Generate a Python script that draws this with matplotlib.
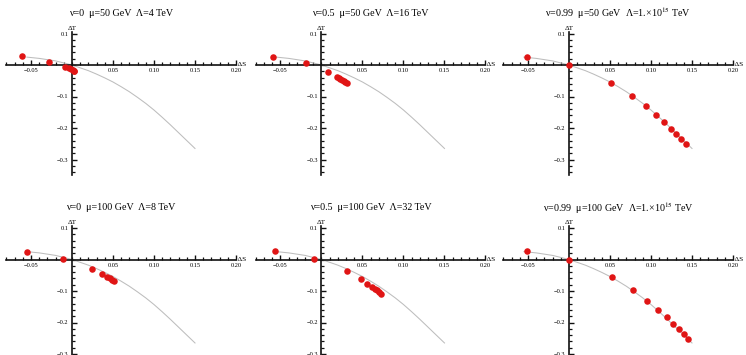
import matplotlib
matplotlib.use("Agg")
import matplotlib.pyplot as plt
import numpy as np
from matplotlib.ticker import MultipleLocator, FixedLocator

plt.rcParams['font.family'] = ['Liberation Serif', 'DejaVu Serif']
plt.rcParams['mathtext.fontset'] = 'stix'

# ---- data ----
titles = [
    "ν=0  μ=50 GeV  Λ=4 TeV",
    "ν=0.5  μ=50 GeV  Λ=16 TeV",
    "ν=0.99  μ=50 GeV  Λ=1.×10$^{15}$ TeV",
    "ν=0  μ=100 GeV  Λ=8 TeV",
    "ν=0.5  μ=100 GeV  Λ=32 TeV",
    "ν=0.99  μ=100 GeV  Λ=1.×10$^{15}$ TeV",
]

curve_S = [-0.055, -0.04, -0.02, 0.0, 0.02, 0.03, 0.04, 0.05, 0.06, 0.07, 0.08,
           0.09, 0.10, 0.11, 0.12, 0.13, 0.14, 0.15]
curve_T = [0.025, 0.021, 0.013, 0.0, -0.018, -0.029, -0.041, -0.054, -0.069, -0.085, -0.103,
           -0.122, -0.143, -0.166, -0.190, -0.215, -0.240, -0.265]

p1_S = [-0.061, -0.028, -0.008, -0.004, -0.001, 0.001, 0.002, 0.003]
p1_T = [0.029, 0.011, -0.006, -0.010, -0.013, -0.016, -0.018, -0.019]

p2_S = [-0.059, -0.0195, 0.008, 0.019, 0.021, 0.023, 0.025, 0.027, 0.029, 0.0305]
p2_T = [0.026, 0.005, -0.022, -0.039, -0.042, -0.045, -0.048, -0.051, -0.054, -0.056]

p3_S = [-0.0516, 0.0, 0.0512, 0.0772, 0.0939, 0.106, 0.116, 0.124, 0.131, 0.137, 0.1427]
p3_T = [0.026, 0.0, -0.056, -0.098, -0.131, -0.159, -0.182, -0.202, -0.220, -0.235, -0.250]

p4_S = [-0.055, -0.011, 0.024, 0.037, 0.0427, 0.046, 0.049, 0.051]
p4_T = [0.025, 0.002, -0.031, -0.047, -0.055, -0.060, -0.065, -0.069]

p5_S = [-0.057, -0.009, 0.031, 0.048, 0.056, 0.0615, 0.065, 0.068, 0.070, 0.072]
p5_T = [0.026, 0.002, -0.038, -0.061, -0.077, -0.087, -0.093, -0.098, -0.104, -0.108]

p6_S = [-0.0516, 0.0, 0.0524, 0.0784, 0.095, 0.109, 0.119, 0.127, 0.134, 0.140, 0.1455]
p6_T = [0.026, 0.0, -0.056, -0.098, -0.132, -0.161, -0.183, -0.204, -0.222, -0.237, -0.252]

points = [(p1_S, p1_T), (p2_S, p2_T), (p3_S, p3_T),
          (p4_S, p4_T), (p5_S, p5_T), (p6_S, p6_T)]

x_ticks = [-0.05, 0.05, 0.10, 0.15, 0.20]
x_labels = ["−0.05", "0.05", "0.10", "0.15", "0.20"]
y_ticks = [0.1, -0.1, -0.2, -0.3]
y_labels = ["0.1", "−0.1", "−0.2", "−0.3"]

# ---- layout ----
W, H = 746, 355
fig = plt.figure(figsize=(W / 100, H / 100), dpi=100)

XMIN, XMAX = -0.08, 0.2
YMIN, YMAX = -0.35, 0.105
PX_X, PX_Y = 820.0, 315.0
col_y_axis = [72, 321.5, 569]
row_x_axis = [65, 259.5]
title_y = [13, 208]

for i in range(6):
    r, c = divmod(i, 3)
    left = col_y_axis[c] + XMIN * PX_X
    width = (XMAX - XMIN) * PX_X
    top = row_x_axis[r] - YMAX * PX_Y
    height = (YMAX - YMIN) * PX_Y
    ax = fig.add_axes([left / W, 1 - (top + height) / H, width / W, height / H])
    ax.set_xlim(XMIN, XMAX)
    ax.set_ylim(YMIN, YMAX)
    ax.patch.set_alpha(0)
    for s in ['top', 'right']:
        ax.spines[s].set_visible(False)
    ax.spines['left'].set_position(('data', 0))
    ax.spines['bottom'].set_position(('data', 0))
    for s in ['left', 'bottom']:
        ax.spines[s].set_linewidth(1.2)
        ax.spines[s].set_color('#111111')
    ax.xaxis.set_major_locator(FixedLocator(x_ticks))
    ax.set_xticklabels(x_labels)
    ax.yaxis.set_major_locator(FixedLocator(y_ticks))
    ax.set_yticklabels(y_labels)
    ax.xaxis.set_minor_locator(MultipleLocator(0.01))
    ax.yaxis.set_minor_locator(MultipleLocator(0.02))
    ax.tick_params(which='major', direction='in', length=3.4, width=1.0, labelsize=4.6,
                   color='#111111', pad=2.5)
    ax.tick_params(which='minor', direction='in', length=2.0, width=0.9, color='#111111')

    ax.plot(curve_S, curve_T, color='#bdbdbd', lw=0.75, zorder=2)
    sx, sy = points[i]
    ax.plot(sx, sy, 'o', color='#e01515', ms=4.7, mec='none', zorder=3, clip_on=False)

    ax.text(XMAX, 0, " ΔS", ha='left', va='center', fontsize=5.2, clip_on=False)
    ax.text(0, YMAX + 0.004, "ΔT", ha='center', va='bottom', fontsize=5.2, clip_on=False)

    fig.text((left + width / 2) / W, 1 - title_y[r] / H, titles[i], ha='center',
             va='center', fontsize=7.2)

fig.savefig("out.png", dpi=100)
